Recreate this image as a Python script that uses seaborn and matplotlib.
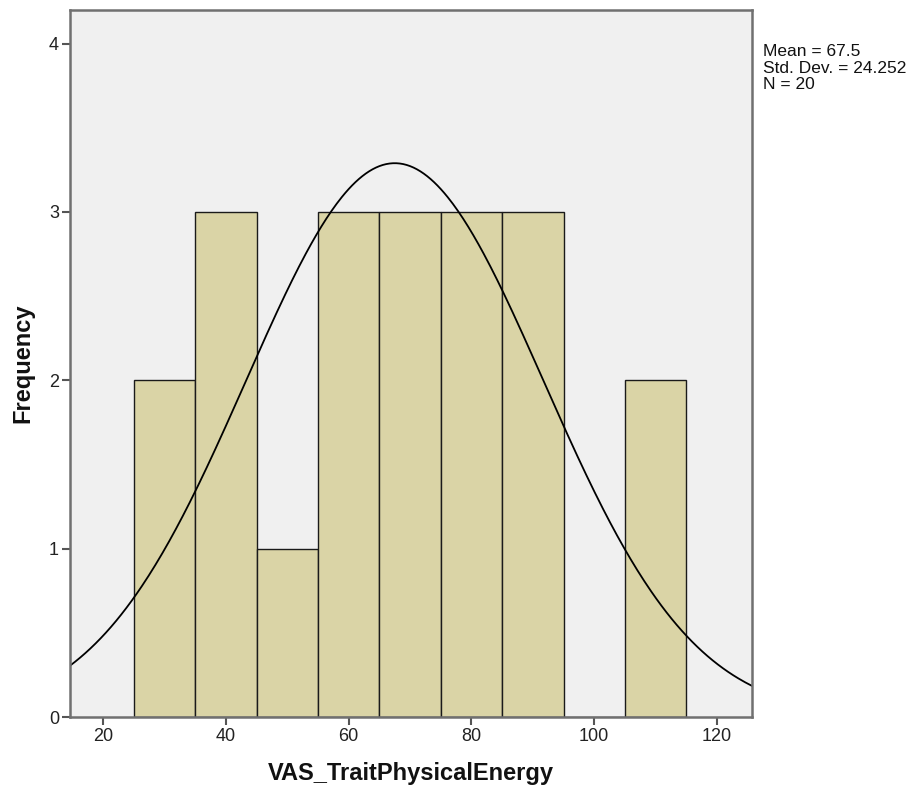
import numpy as np
import pandas as pd
import matplotlib
matplotlib.use("Agg")
import matplotlib.pyplot as plt
import seaborn as sns

# Data
bin_edges = [25, 35, 45, 55, 65, 75, 85, 95, 105, 115]
bin_centers = [30, 40, 50, 60, 70, 80, 90, 100, 110]
counts = [2, 3, 1, 3, 3, 3, 3, 0, 2]
mean_val = 67.5
std_val = 24.252
n_val = 20
x_ticks = [20, 40, 60, 80, 100, 120]
y_ticks = [0, 1, 2, 3, 4]

sns.set_style("white")
plt.rcParams['font.family'] = ['Liberation Sans', 'DejaVu Sans']

fig = plt.figure(figsize=(9.14, 7.93), dpi=100)
ax = fig.add_axes([70/914, 1-717/793, (752-70)/914, (717-10)/793])
ax.set_facecolor("#F0F0F0")

df = pd.DataFrame({"VAS_TraitPhysicalEnergy": bin_centers, "count": counts})
sns.histplot(data=df, x="VAS_TraitPhysicalEnergy", weights="count", bins=bin_edges,
             color="#DAD4A6", alpha=1.0, edgecolor="#1a1a1a", linewidth=1.0, ax=ax)

# fitted normal curve
xs = np.linspace(14.6, 125.7, 400)
binw = bin_edges[1] - bin_edges[0]
ys = n_val * binw / (std_val * np.sqrt(2 * np.pi)) * np.exp(-0.5 * ((xs - mean_val) / std_val) ** 2)
sns.lineplot(x=xs, y=ys, color="black", linewidth=1.3, ax=ax)

ax.set_xlim(14.6, 125.7)
ax.set_ylim(0, 4.2)
ax.set_xticks(x_ticks)
ax.set_yticks(y_ticks)
ax.tick_params(axis="both", which="both", direction="out", length=6, width=1.5,
               color="#555555", labelsize=13, labelcolor="#222222", pad=2,
               bottom=True, left=True)
for s in ax.spines.values():
    s.set_color("#707070")
    s.set_linewidth(1.8)
    s.set_visible(True)

ax.set_xlabel("VAS_TraitPhysicalEnergy", fontsize=17, fontweight="bold", labelpad=12, color="#111111")
ax.set_ylabel("Frequency", fontsize=17, fontweight="bold", labelpad=10, color="#111111")

fig.text(763/914, 1-44.5/793, f"Mean = {mean_val}\nStd. Dev. = {std_val}\nN = {n_val}",
         fontsize=12.5, va="top", ha="left", linespacing=1.1, color="#111111")

fig.savefig("out.png", dpi=100, facecolor="white")
